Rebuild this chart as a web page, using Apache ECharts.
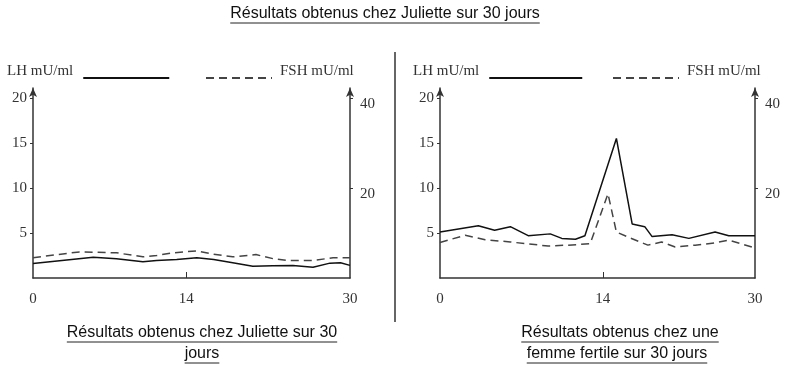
<!DOCTYPE html>
<html><head><meta charset="utf-8">
<script src="https://cdn.jsdelivr.net/npm/echarts@6/dist/echarts.min.js"></script>
<style>html,body{margin:0;padding:0;background:#fff}#c{width:786px;height:373px}</style>
</head><body><div id="c"></div>
<script>
// ---- data ----
const julLHDays  = [0, 1.6, 5.7, 7.9, 10.4, 11.7, 13.6, 15.5, 17.1, 18.9, 20.8, 22.7, 24.6, 26.5, 28.1, 29.1, 30];
const julLH      = [1.6, 1.8, 2.3, 2.15, 1.8, 1.95, 2.05, 2.25, 2.05, 1.7, 1.3, 1.35, 1.4, 1.2, 1.65, 1.7, 1.4];
const julFSHDays = [0, 4.4, 7.9, 10.4, 11.7, 13.3, 14.2, 15.5, 17.1, 18.9, 21.1, 22.7, 24, 26.5, 28.4, 30];
const julFSH     = [4.5, 5.8, 5.6, 4.7, 5.0, 5.6, 5.8, 6.0, 5.3, 4.7, 5.2, 4.3, 3.9, 3.9, 4.5, 4.5];

const ferLHDays  = [0, 3.65, 5.2, 6.7, 8.4, 10.5, 11.6, 12.9, 13.8, 16.8, 18.3, 19.5, 20.2, 22.1, 23.7, 26.2, 27.5, 30];
const ferLH      = [5.1, 5.8, 5.3, 5.7, 4.7, 4.9, 4.4, 4.3, 4.7, 15.5, 6.0, 5.7, 4.6, 4.8, 4.4, 5.1, 4.7, 4.7];
const ferFSHDays = [0, 2.4, 4.3, 6.7, 10.3, 12.2, 14.3, 16, 16.8, 17.9, 19.8, 21.1, 22.4, 24.3, 26.2, 27.5, 30];
const ferFSH     = [7.9, 9.5, 8.5, 8.0, 7.1, 7.3, 7.6, 18.7, 10.2, 9.1, 7.3, 8.0, 6.9, 7.3, 7.8, 8.4, 6.7];

// tick labels and where the reference draws them on the day scale
const xTickLabels = ['0', '14', '30'];
const julXTickPos = [0, 14.5, 30];
const ferXTickPos = [0, 15.5, 30];
const lhTicks  = [5, 10, 15, 20];
const fshTicks = [20, 40];

const mainTitle = 'Résultats obtenus chez Juliette sur 30 jours';
const capLeft  = ['Résultats obtenus chez Juliette sur 30', 'jours'];
const capRight = ['Résultats obtenus chez une', 'femme fertile sur 30 jours'];
const lhName = 'LH mU/ml', fshName = 'FSH mU/ml';

// ---- helpers ----
const zip = (xs, ys) => xs.map((x, i) => [x, ys[i]]);
const SERIF = '"Liberation Serif", "DejaVu Serif", serif';
const SANS  = '"Liberation Sans", Arial, sans-serif';
const mctx = document.createElement('canvas').getContext('2d');
function tw(text, font) { mctx.font = font; return mctx.measureText(text).width; }

function underlined(text, cx, y, size) {
  const font = size + 'px ' + SANS;
  const w = tw(text, font);
  return [
    { type: 'text', left: cx - w / 2, top: y, style: { text: text, font: font, fill: '#111' } },
    { type: 'line', shape: { x1: cx - w / 2, y1: y + size + 1, x2: cx + w / 2, y2: y + size + 1 }, style: { stroke: '#222', lineWidth: 1 } }
  ];
}

const axisCol = '#333';
function xAxis(gi, pos) {
  return {
    type: 'value', gridIndex: gi, min: 0, max: 30,
    axisLine: { lineStyle: { color: axisCol, width: 1.5 } },
    axisTick: { show: true, inside: true, length: 6, customValues: [pos[1]], lineStyle: { color: axisCol } },
    splitLine: { show: false },
    axisLabel: { customValues: pos, margin: 14, color: '#333', fontFamily: SERIF, fontSize: 15,
      formatter: v => xTickLabels[pos.indexOf(v)] }
  };
}
function yAxis(gi, position, max, ticks) {
  const right = position === 'right';
  return {
    type: 'value', gridIndex: gi, position: position, min: 0, max: max,
    axisLine: { show: true, symbol: ['none', 'arrow'], symbolSize: [6, 9], lineStyle: { color: axisCol, width: 1.5 } },
    axisTick: { show: true, length: 3, customValues: ticks, lineStyle: { color: axisCol } },
    splitLine: { show: false },
    axisLabel: { customValues: ticks, margin: right ? 10 : 6, color: '#333', fontFamily: SERIF, fontSize: 15,
      verticalAlign: right ? 'top' : 'middle', lineHeight: right ? 12 : 15 }
  };
}
function legend(name, left, top, width, align) {
  return {
    data: [name], left: left, top: top, align: align, itemWidth: width, itemHeight: 14,
    selectedMode: false,
    itemStyle: { opacity: 0 },
    formatter: '{t|{name}}',
    textStyle: { fontFamily: SERIF, fontSize: 15, color: '#333',
      rich: { t: { fontFamily: SERIF, fontSize: 15, color: '#333', padding: align === 'right' ? [0, 5, 13, 0] : [0, 0, 13, 3] } } }
  };
}
const lhStyle  = { color: '#111', width: 1.5 };
const fshStyle = { color: '#444', width: 1.5, type: [8, 5] };

const chart = echarts.init(document.getElementById('c'), null, { renderer: 'canvas' });
chart.setOption({
  animation: false,
  grid: [
    { left: 33, right: 436, top: 88, bottom: 95 },
    { left: 440, right: 31, top: 88, bottom: 95 }
  ],
  xAxis: [xAxis(0, julXTickPos), xAxis(1, ferXTickPos)],
  yAxis: [
    yAxis(0, 'left', 21.1, lhTicks), yAxis(0, 'right', 42.2, fshTicks),
    yAxis(1, 'left', 21.1, lhTicks), yAxis(1, 'right', 42.2, fshTicks)
  ],
  legend: [
    legend(lhName, 2, 59, 86, 'right'),
    legend(fshName, 200, 59, 66, 'left'),
    legend(lhName, 408, 59, 93, 'right'),
    legend(fshName, 607, 59, 66, 'left')
  ],
  series: [
    { name: lhName, type: 'line', xAxisIndex: 0, yAxisIndex: 0, data: zip(julLHDays, julLH), symbol: 'none', lineStyle: lhStyle, itemStyle: { color: '#111' } },
    { name: fshName, type: 'line', xAxisIndex: 0, yAxisIndex: 1, data: zip(julFSHDays, julFSH), symbol: 'none', lineStyle: fshStyle, itemStyle: { color: '#444' } },
    { name: lhName, type: 'line', xAxisIndex: 1, yAxisIndex: 2, data: zip(ferLHDays, ferLH), symbol: 'none', lineStyle: lhStyle, itemStyle: { color: '#111' } },
    { name: fshName, type: 'line', xAxisIndex: 1, yAxisIndex: 3, data: zip(ferFSHDays, ferFSH), symbol: 'none', lineStyle: fshStyle, itemStyle: { color: '#444' } }
  ],
  graphic: [].concat(
    underlined(mainTitle, 385, 6, 16),
    underlined(capLeft[0], 202, 325, 16),
    underlined(capLeft[1], 202, 346, 16),
    underlined(capRight[0], 620, 325, 16),
    underlined(capRight[1], 617, 346, 16),
    [{ type: 'line', shape: { x1: 395, y1: 52, x2: 395, y2: 322 }, style: { stroke: '#333', lineWidth: 1.5 } }]
  )
});
</script></body></html>
